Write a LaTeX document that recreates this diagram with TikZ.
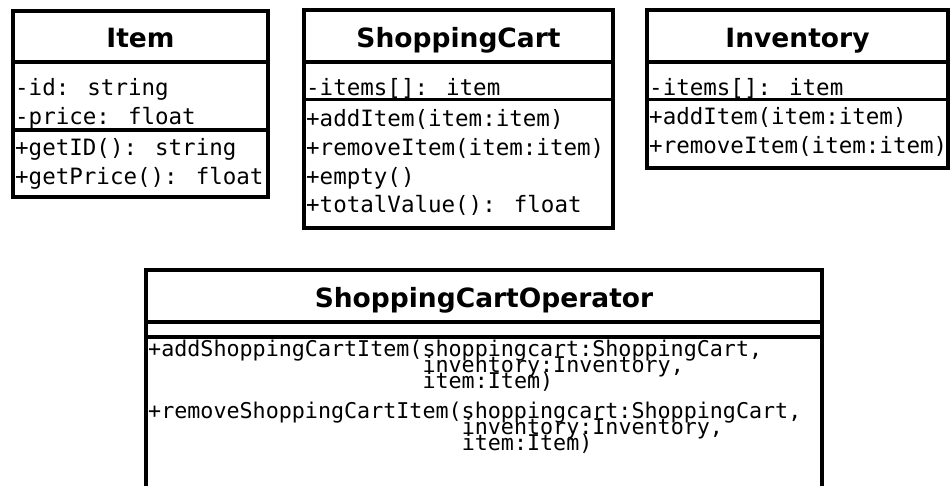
\documentclass[tikz,border=0pt]{standalone}
\usepackage{fontspec}
\newfontfamily\monof{DejaVu Sans Mono}
\newfontfamily\titlef{DejaVu Sans}
\begin{document}
\begin{tikzpicture}[x=1pt,y=-1pt,
  box/.style={draw,line width=3.2pt,anchor=north west,inner sep=0pt,outer sep=0pt},
  sepline/.style={line width=3.2pt},
  ttl/.style={font=\titlef\bfseries\fontsize{26.5}{30}\selectfont,anchor=base,inner sep=0pt},
  mem/.style={font=\monof\fontsize{22.5}{28}\selectfont,anchor=base west,inner sep=0pt},
  opm/.style={font=\monof\fontsize{21.7}{19}\selectfont,anchor=base west,inner sep=0pt}]
\useasboundingbox (0,0) rectangle (950,485);
\clip (0,0) rectangle (950,485);
% Item
\node[box,minimum width=255pt,minimum height=186pt] (item) at (13,11) {};
\draw[sepline] (item.west |- 0,62) -- (item.east |- 0,62);
\draw[sepline] (item.west |- 0,130) -- (item.east |- 0,130);
\node[ttl] (itemT) at (140.5,47.5) {Item};
\node[mem] (itemA1) at (15,95) {-id: string};
\node[mem] (itemA2) at (15,124.5) {-price: float};
\node[mem] (itemM1) at (15,155) {+getID(): string};
\node[mem] (itemM2) at (15,184.5) {+getPrice(): float};
% ShoppingCart
\node[box,minimum width=309pt,minimum height=218pt] (cart) at (304,10) {};
\draw[sepline] (cart.west |- 0,62) -- (cart.east |- 0,62);
\draw[sepline] (cart.west |- 0,99.5) -- (cart.east |- 0,99.5);
\node[ttl] (cartT) at (458.5,47.5) {ShoppingCart};
\node[mem] (cartA1) at (306,95) {-items[]: item};
\node[mem] (cartM1) at (306,126) {+addItem(item:item)};
\node[mem] (cartM2) at (306,155) {+removeItem(item:item)};
\node[mem] (cartM3) at (306,184) {+empty()};
\node[mem] (cartM4) at (306,212.5) {+totalValue(): float};
% Inventory
\node[box,minimum width=301pt,minimum height=158pt] (inv) at (647,10) {};
\draw[sepline] (inv.west |- 0,62) -- (inv.east |- 0,62);
\draw[sepline] (inv.west |- 0,99.5) -- (inv.east |- 0,99.5);
\node[ttl] (invT) at (797.5,47.5) {Inventory};
\node[mem] (invA1) at (649,95) {-items[]: item};
\node[mem] (invM1) at (649,124.5) {+addItem(item:item)};
\node[mem] (invM2) at (649,153) {+removeItem(item:item)};
% ShoppingCartOperator
\node[box,minimum width=676pt,minimum height=240pt] (op) at (146,270) {};
\draw[sepline] (op.west |- 0,322) -- (op.east |- 0,322);
\draw[sepline] (op.west |- 0,337) -- (op.east |- 0,337);
\node[ttl] (opT) at (484,307) {ShoppingCartOperator};
\node[opm] (opM1a) at (148,356) {+addShoppingCartItem(shoppingcart:ShoppingCart,};
\node[opm] (opM1b) at (148,372) {\phantom{+addShoppingCartItem(}inventory:Inventory,};
\node[opm] (opM1c) at (148,388) {\phantom{+addShoppingCartItem(}item:Item)};
\node[opm] (opM2a) at (148,418) {+removeShoppingCartItem(shoppingcart:ShoppingCart,};
\node[opm] (opM2b) at (148,434) {\phantom{+removeShoppingCartItem(}inventory:Inventory,};
\node[opm] (opM2c) at (148,450) {\phantom{+removeShoppingCartItem(}item:Item)};
\end{tikzpicture}
\end{document}
